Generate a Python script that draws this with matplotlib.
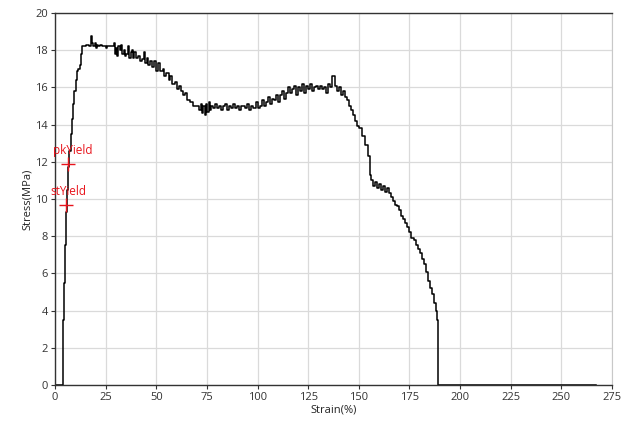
import matplotlib
matplotlib.use("Agg")
import matplotlib.pyplot as plt

plt.rcParams['font.family'] = ['Open Sans', 'DejaVu Sans']

strain = [0, 3.8, 3.9, 4.1, 4.4, 4.8, 5.3, 5.8, 6.4, 7.0, 7.7, 8.4, 9.0, 9.6, 10.2, 10.8, 11.6, 12.3, 12.8, 13.4,
          14.2, 15.5, 16.8, 17.6, 18.0, 18.4, 19.0, 19.6, 20.0, 20.6, 21.2, 22.0, 23, 24, 25, 25.5, 26, 27, 28.5, 29,
          29.5, 30, 30.5, 31, 32, 32.5, 33, 34, 34.5, 35, 36, 36.5, 37.5, 38, 38.5, 39, 40, 41, 42, 43,
          44, 44.5, 45.5, 46, 47, 48, 49, 50, 51, 52, 53.5, 54, 55, 56.5, 57, 58, 59, 60, 61, 62,
          63, 64, 65, 66.5, 68, 70, 71, 72, 72.5, 73, 74, 74.5, 75, 76, 76.5, 77, 78, 79, 80, 81,
          82, 83, 84, 85, 86, 87, 88, 89, 90, 91, 92, 93, 94, 95, 96, 97, 98, 99, 100, 101,
          102, 103, 104, 105, 106, 107, 108, 109, 110, 111, 112, 113, 114, 115, 116, 117, 118, 119, 120, 121,
          122, 123, 124, 125, 126, 127, 128, 129, 130, 131, 132, 133, 134, 135, 136, 137, 138, 139, 140, 141,
          142, 143, 144, 145, 146, 147, 148, 149, 150, 151.5, 153, 154.5, 155.5, 156, 157, 158, 159, 160, 161, 162,
          163, 164, 165, 166, 167, 168, 169, 170, 171, 172, 173, 174, 175, 176, 177, 178, 179, 180, 181, 182,
          183, 184, 185, 186, 187, 188, 188.5, 189, 189.3, 267]
stress = [0, 0, 1.5, 3.5, 5.5, 7.5, 9.3, 10.5, 11.7, 12.6, 13.5, 14.3, 15.1, 15.8, 16.4, 16.9, 17.0, 17.2, 17.8, 18.2,
          18.2, 18.3, 18.2, 18.5, 18.75, 18.4, 18.2, 18.4, 18.1, 18.3, 18.2, 18.3, 18.2, 18.2, 18.1, 18.2, 18.25, 18.2, 18.2, 18.4,
          17.8, 18.1, 17.7, 18.2, 18.0, 18.3, 17.8, 18.0, 17.7, 17.8, 18.2, 17.6, 17.9, 18.0, 17.6, 17.9, 17.6, 17.7, 17.4, 17.5,
          17.9, 17.3, 17.6, 17.2, 17.4, 17.1, 17.4, 16.9, 17.3, 16.9, 17.0, 16.6, 16.8, 16.4, 16.6, 16.2, 16.3, 15.9, 16.1, 15.8,
          15.6, 15.7, 15.3, 15.2, 15.0, 15.0, 14.8, 15.1, 14.6, 15.0, 14.5, 15.1, 14.7, 15.2, 14.8, 15.0, 14.9, 15.1, 14.9, 15.0,
          14.8, 15.0, 15.1, 14.8, 15.0, 14.9, 15.1, 14.9, 15.0, 14.8, 15.0, 15.0, 14.9, 15.1, 14.8, 15.0, 14.9, 15.2, 14.9, 15.0,
          15.3, 15.0, 15.2, 15.5, 15.1, 15.4, 15.3, 15.6, 15.2, 15.6, 15.8, 15.4, 15.7, 16.0, 15.7, 15.9, 16.1, 15.6, 16.0, 15.8,
          16.2, 15.7, 16.1, 15.9, 16.2, 15.8, 16.0, 16.1, 15.9, 16.1, 15.9, 16.0, 15.7, 16.2, 16.0, 16.6, 16.1, 15.8, 16.0, 15.6,
          15.8, 15.5, 15.3, 15.0, 14.8, 14.5, 14.2, 13.9, 13.8, 13.4, 12.9, 12.3, 11.3, 11.0, 10.7, 10.9, 10.6, 10.8, 10.5, 10.7,
          10.4, 10.6, 10.3, 10.1, 9.9, 9.7, 9.6, 9.4, 9.1, 8.9, 8.7, 8.5, 8.2, 7.9, 7.8, 7.5, 7.3, 7.1, 6.8, 6.5,
          6.1, 5.6, 5.2, 4.9, 4.4, 4.0, 3.5, 2.0, 0, 0]

marker_strain = [6.6, 5.4]
marker_stress = [11.9, 9.7]
marker_labels = ["pkYield", "stYield"]

x_ticks = [0, 25, 50, 75, 100, 125, 150, 175, 200, 225, 250, 275]
y_ticks = [0, 2, 4, 6, 8, 10, 12, 14, 16, 18, 20]

fig = plt.figure(figsize=(6.28, 4.23), dpi=100)
ax = fig.add_axes([55/628, 1-385/423, (612-55)/628, (385-13)/423])

ax.plot(strain, stress, drawstyle='steps-post', color='black', lw=1.1)
ax.plot(marker_strain, marker_stress, linestyle='none', marker='+', color='#e8141c',
        markersize=10, markeredgewidth=1.0)
for xs, ys, lab in zip(marker_strain, marker_stress, marker_labels):
    ax.annotate(lab, (xs, ys), xytext=(-11, 7), textcoords='offset points',
                color='#e8141c', fontsize=8.5, annotation_clip=False)

ax.set_xlim(0, 275)
ax.set_ylim(0, 20)
ax.set_xticks(x_ticks)
ax.set_yticks(y_ticks)
ax.grid(True, color='#dadada', lw=0.9)
ax.set_axisbelow(True)
ax.tick_params(labelsize=8, colors='#333333', length=3, width=0.8, pad=2)
ax.set_xlabel('Strain(%)', fontsize=8, labelpad=1, color='#222222')
ax.set_ylabel('Stress(MPa)', fontsize=8, labelpad=2, color='#222222')
for s in ['left', 'bottom', 'top']:
    ax.spines[s].set_color('#333333')
    ax.spines[s].set_linewidth(1.0)
ax.spines['right'].set_color('#c8c8c8')

fig.savefig('out.png', dpi=100)
